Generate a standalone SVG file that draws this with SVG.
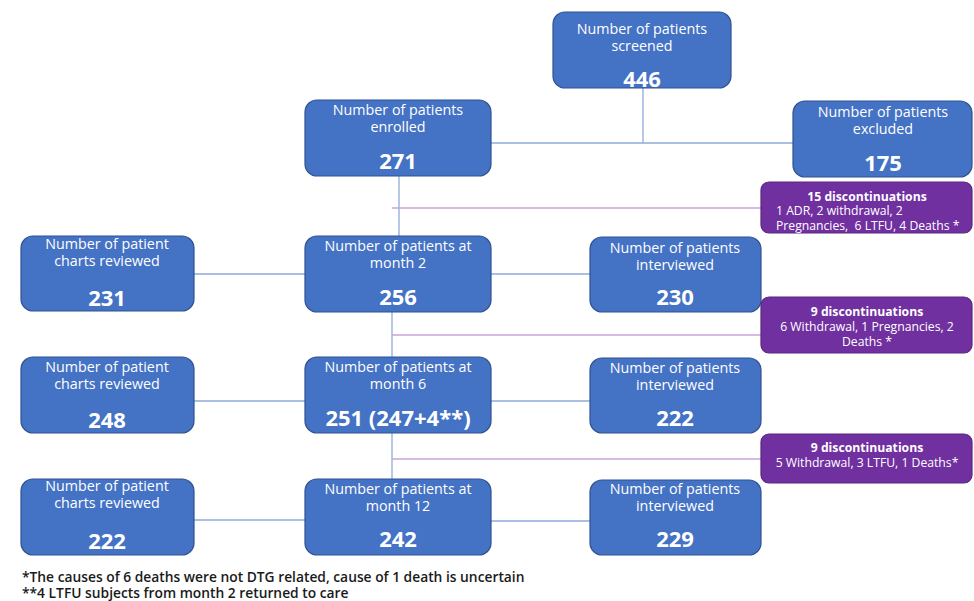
<svg xmlns="http://www.w3.org/2000/svg" width="974" height="601" viewBox="0 0 974 601">
<style>
.box{fill:#4472C4;stroke:#2F528F;stroke-width:1.2}
.pbox{fill:#7030A0;stroke:#5A2780;stroke-width:1.2}
.t{font-family:"Open Sans","Noto Sans",sans-serif;font-size:14.3px;fill:#fff;text-anchor:middle}
.n{font-family:"Open Sans","Noto Sans",sans-serif;font-size:22px;font-weight:bold;fill:#fff;text-anchor:middle}
.pt{font-family:"Open Sans","Noto Sans",sans-serif;font-size:12.2px;fill:#fff}
.pb{font-weight:bold}
.c{stroke:#8FAADC;stroke-width:1.3;fill:none}
.pc{stroke:#C9A3DD;stroke-width:1.3;fill:none}
.f{font-family:"Open Sans","Noto Sans",sans-serif;font-size:13.8px;font-weight:600;fill:#1a1a1a}
</style>
<rect width="974" height="601" fill="#fff"/>
<g id="connectors">
<line class="c" x1="643" y1="88" x2="643" y2="143"/>
<line class="c" x1="491" y1="143" x2="793" y2="143"/>
<line class="c" x1="399" y1="176" x2="399" y2="236"/>
<line class="pc" x1="392" y1="208" x2="761" y2="208"/>
<line class="c" x1="194" y1="274" x2="305" y2="274"/>
<line class="c" x1="491" y1="274" x2="590" y2="274"/>
<line class="c" x1="392" y1="312" x2="392" y2="357"/>
<line class="pc" x1="392" y1="335" x2="761" y2="335"/>
<line class="c" x1="194" y1="401" x2="305" y2="401"/>
<line class="c" x1="491" y1="401" x2="590" y2="401"/>
<line class="c" x1="392" y1="433" x2="392" y2="479"/>
<line class="pc" x1="392" y1="459" x2="761" y2="459"/>
<line class="c" x1="194" y1="520" x2="305" y2="520"/>
<line class="c" x1="491" y1="521" x2="590" y2="521"/>
</g>
<g id="screened">
<rect class="box" x="553" y="12" width="178" height="76" rx="12"/>
<text class="t" x="642" y="34">Number of patients</text>
<text class="t" x="642" y="51">screened</text>
<text class="n" x="642" y="87">446</text>
</g>
<g id="enrolled">
<rect class="box" x="305" y="100" width="186" height="76" rx="12"/>
<text class="t" x="398" y="115">Number of patients</text>
<text class="t" x="398" y="132">enrolled</text>
<text class="n" x="398" y="169">271</text>
</g>
<g id="excluded">
<rect class="box" x="793" y="101" width="179" height="76" rx="12"/>
<text class="t" x="883" y="117">Number of patients</text>
<text class="t" x="883" y="134">excluded</text>
<text class="n" x="883" y="171">175</text>
</g>
<g id="disc1">
<rect class="pbox" x="761" y="182" width="211" height="51" rx="8"/>
<text class="pt pb" x="867" y="201" text-anchor="middle">15 discontinuations</text>
<text class="pt" x="776" y="215">1 ADR, 2 withdrawal, 2</text>
<text class="pt" x="776" y="230" xml:space="preserve">Pregnancies,  6 LTFU, 4 Deaths *</text>
</g>
<g id="charts2">
<rect class="box" x="21" y="236" width="173" height="75" rx="12"/>
<text class="t" x="107" y="249">Number of patient</text>
<text class="t" x="107" y="266">charts reviewed</text>
<text class="n" x="107" y="306">231</text>
</g>
<g id="month2">
<rect class="box" x="305" y="236" width="186" height="76" rx="12"/>
<text class="t" x="398" y="251">Number of patients at</text>
<text class="t" x="398" y="268">month 2</text>
<text class="n" x="398" y="305">256</text>
</g>
<g id="interv2">
<rect class="box" x="590" y="237" width="171" height="75" rx="12"/>
<text class="t" x="675" y="253">Number of patients</text>
<text class="t" x="675" y="270">interviewed</text>
<text class="n" x="675" y="305">230</text>
</g>
<g id="disc2">
<rect class="pbox" x="761" y="297" width="211" height="56" rx="8"/>
<text class="pt pb" x="867" y="316" text-anchor="middle">9 discontinuations</text>
<text class="pt" x="867" y="331" text-anchor="middle">6 Withdrawal, 1 Pregnancies, 2</text>
<text class="pt" x="867" y="346" text-anchor="middle">Deaths *</text>
</g>
<g id="charts6">
<rect class="box" x="21" y="357" width="173" height="76" rx="12"/>
<text class="t" x="107" y="372">Number of patient</text>
<text class="t" x="107" y="389">charts reviewed</text>
<text class="n" x="107" y="428">248</text>
</g>
<g id="month6">
<rect class="box" x="305" y="357" width="186" height="76" rx="12"/>
<text class="t" x="398" y="372">Number of patients at</text>
<text class="t" x="398" y="389">month 6</text>
<text class="n" x="398" y="426">251 (247+4**)</text>
</g>
<g id="interv6">
<rect class="box" x="590" y="358" width="171" height="75" rx="12"/>
<text class="t" x="675" y="373">Number of patients</text>
<text class="t" x="675" y="390">interviewed</text>
<text class="n" x="675" y="426">222</text>
</g>
<g id="disc3">
<rect class="pbox" x="761" y="434" width="211" height="49" rx="8"/>
<text class="pt pb" x="867" y="452" text-anchor="middle">9 discontinuations</text>
<text class="pt" x="867" y="467" text-anchor="middle">5 Withdrawal, 3 LTFU, 1 Deaths*</text>
</g>
<g id="charts12">
<rect class="box" x="21" y="479" width="173" height="76" rx="12"/>
<text class="t" x="107" y="491">Number of patient</text>
<text class="t" x="107" y="508">charts reviewed</text>
<text class="n" x="107" y="549">222</text>
</g>
<g id="month12">
<rect class="box" x="305" y="479" width="186" height="76" rx="12"/>
<text class="t" x="398" y="494">Number of patients at</text>
<text class="t" x="398" y="511">month 12</text>
<text class="n" x="398" y="547">242</text>
</g>
<g id="interv12">
<rect class="box" x="590" y="480" width="171" height="75" rx="12"/>
<text class="t" x="675" y="494">Number of patients</text>
<text class="t" x="675" y="511">interviewed</text>
<text class="n" x="675" y="547">229</text>
</g>
<g id="footnotes">
<text class="f" x="22" y="582">*The causes of 6 deaths were not DTG related, cause of 1 death is uncertain</text>
<text class="f" x="22" y="598">**4 LTFU subjects from month 2 returned to care</text>
</g>
</svg>
